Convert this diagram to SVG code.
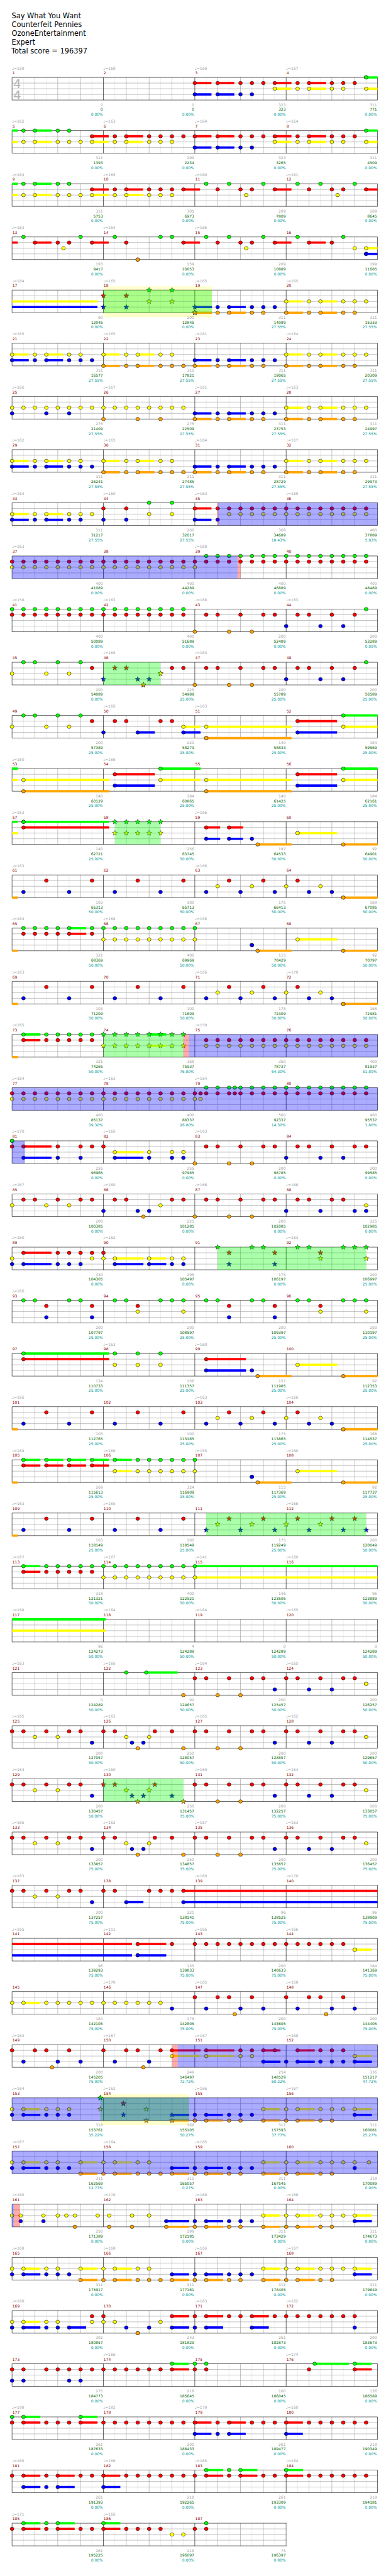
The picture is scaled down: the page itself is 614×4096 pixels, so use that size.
<svg xmlns="http://www.w3.org/2000/svg" xmlns:xlink="http://www.w3.org/1999/xlink" width="614" height="4096" viewBox="0 0 614 4096">
<style>
text{font-family:"DejaVu Sans",sans-serif;font-size:10px}
.t,.a{fill:#a0a0a0}
.m{fill:#8b0000}
.a,.b,.c{text-anchor:end}
.b{fill:#006400}
.c{fill:#009999}
.h{font-size:19px;fill:#000}
.ts{font-size:33px;fill:#b4b4b4}
.sG,.sR,.sY,.sB,.sO{fill:none;stroke-width:6}
.sG{stroke:#0f0}.sR{stroke:#f00}.sY{stroke:#ff0}.sB{stroke:#00f}.sO{stroke:#ffa500}
.nG,.nR,.nY,.nB,.nO,.xG,.xR,.xY,.xB,.xO{fill:none;stroke:none}
.nG{marker-start:url(#G);marker-mid:url(#G);marker-end:url(#G)}
.nR{marker-start:url(#R);marker-mid:url(#R);marker-end:url(#R)}
.nY{marker-start:url(#Y);marker-mid:url(#Y);marker-end:url(#Y)}
.nB{marker-start:url(#B);marker-mid:url(#B);marker-end:url(#B)}
.nO{marker-start:url(#O);marker-mid:url(#O);marker-end:url(#O)}
.xG{marker-start:url(#SG);marker-mid:url(#SG);marker-end:url(#SG)}
.xR{marker-start:url(#SR);marker-mid:url(#SR);marker-end:url(#SR)}
.xY{marker-start:url(#SY);marker-mid:url(#SY);marker-end:url(#SY)}
.xB{marker-start:url(#SB);marker-mid:url(#SB);marker-end:url(#SB)}
.xO{marker-start:url(#SO);marker-mid:url(#SO);marker-end:url(#SO)}
.ob{fill:#00f;fill-opacity:.33}.og{fill:#0f0;fill-opacity:.33}.op{fill:#f00;fill-opacity:.33}.oy{fill:#ffc}
</style>
<defs>
<ellipse id="e" rx="5" ry="4.6" stroke="#000" stroke-width=".9"/>
<path id="p" d="M0-7L1.8-2.4 6.7-2.2 2.9.9 4.1 5.7 0 3-4.1 5.7-2.9.9-6.7-2.2-1.8-2.4Z" stroke="#000" stroke-width=".8"/>
<marker id="G" markerUnits="userSpaceOnUse" overflow="visible"><use href="#e" fill="#0f0" transform="scale(.033003,1)"/></marker>
<marker id="R" markerUnits="userSpaceOnUse" overflow="visible"><use href="#e" fill="#f00" transform="scale(.033003,1)"/></marker>
<marker id="Y" markerUnits="userSpaceOnUse" overflow="visible"><use href="#e" fill="#ff0" transform="scale(.033003,1)"/></marker>
<marker id="B" markerUnits="userSpaceOnUse" overflow="visible"><use href="#e" fill="#00f" transform="scale(.033003,1)"/></marker>
<marker id="O" markerUnits="userSpaceOnUse" overflow="visible"><use href="#e" fill="#ffa500" transform="scale(.033003,1)"/></marker>
<marker id="SG" markerUnits="userSpaceOnUse" overflow="visible"><use href="#p" fill="#0f0" transform="scale(.033003,1)"/></marker>
<marker id="SR" markerUnits="userSpaceOnUse" overflow="visible"><use href="#p" fill="#f00" transform="scale(.033003,1)"/></marker>
<marker id="SY" markerUnits="userSpaceOnUse" overflow="visible"><use href="#p" fill="#ff0" transform="scale(.033003,1)"/></marker>
<marker id="SB" markerUnits="userSpaceOnUse" overflow="visible"><use href="#p" fill="#00f" transform="scale(.033003,1)"/></marker>
<marker id="SO" markerUnits="userSpaceOnUse" overflow="visible"><use href="#p" fill="#ffa500" transform="scale(.033003,1)"/></marker>
<g id="st">
<path d="M30.3 0V60M90.9 0V60M151.5 0V60M212.1 0V60M272.7 0V60M333.3 0V60M393.9 0V60M454.5 0V60M515.1 0V60M575.7 0V60M636.3 0V60M696.9 0V60M757.5 0V60M818.1 0V60M878.7 0V60M939.3 0V60" stroke="#e0e0e0"/>
<path d="M60.6 0V60M121.2 0V60M181.8 0V60M303 0V60M363.6 0V60M424.2 0V60M545.4 0V60M606 0V60M666.6 0V60M787.8 0V60M848.4 0V60M909 0V60M0 15H969.6M0 30H969.6M0 45H969.6" stroke="#999"/>
<path d="M0 0V60M242.4 0V60M484.8 0V60M727.2 0V60M969.6 0V60M0 0H969.6M0 60H969.6" stroke="#000"/>
</g>
<clipPath id="c3"><rect x="-2" y="-2" width="730" height="64"/></clipPath>
</defs>
<rect width="614" height="4096" fill="#fff"/>
<g transform="scale(.5996)">
<g id="title">
<text class="h" x="31" y="49">Say What You Want</text>
<text class="h" x="31" y="72.3">Counterfeit Pennies</text>
<text class="h" x="31" y="95.6">OzoneEntertainment</text>
<text class="h" x="31" y="119">Expert</text>
<text class="h" x="30" y="142">Total score = 196397</text>
</g>

<g id="row1" transform="translate(32,205.3)">
<use href="#st"/>
<text class="ts" x="3" y="27.4">4</text><text class="ts" x="3" y="57.4">4</text>
<g transform="scale(30.3,1)">
<path class="sR" d="M16 15H17.46M18 15H19.46M23 15H24.46M26 15H27.5"/>
<path class="sY" d="M23 30H24.46M26 30H27.5M31 30H32"/>
<path class="sB" d="M16 45H17.46M18 45H19.46"/>
<path class="sG" d="M31 0H32"/>
<path class="nR" d="M16 15H18 20 21 22 23 25 26 28 29 30"/>
<path class="nY" d="M23 30H25 26 28 29 31"/>
<path class="nB" d="M16 45H18 20 21"/>
<path class="nG" d="M31 0h0"/>
</g>
<text class="t" y="-21"><tspan x="0">♩=158</tspan><tspan x="242">♩=168</tspan><tspan x="485">♩=169</tspan><tspan x="727">♩=167</tspan></text>
<text class="m" y="-8"><tspan x="1">1</tspan><tspan x="243">2</tspan><tspan x="486">3</tspan><tspan x="728">4</tspan></text>
<text class="a" y="76"><tspan x="241">0</tspan><tspan x="483">0</tspan><tspan x="726">323</tspan><tspan x="968">311</tspan></text>
<text class="b" y="89"><tspan x="241">0</tspan><tspan x="483">0</tspan><tspan x="726">323</tspan><tspan x="968">771</tspan></text>
<text class="c" y="102"><tspan x="241">0.00%</tspan><tspan x="483">0.00%</tspan><tspan x="726">0.00%</tspan><tspan x="968">0.00%</tspan></text>
</g>

<g id="row2" transform="translate(32,346.3)">
<use href="#st"/>
<g transform="scale(30.3,1)">
<path class="sG" d="M0 0H.5M2 0H3.46M31 0H32"/>
<path class="sR" d="M7 15H8.46M10 15H11.46M16 15H17.46M18 15H19.46M23 15H24.46M26 15H27.5"/>
<path class="sY" d="M0 30H.5M2 30H3.46M7 30H8.46M10 30H11.46M23 30H24.46M26 30H27.5M31 30H32"/>
<path class="sB" d="M16 45H17.46M18 45H19.46"/>
<path class="nG" d="M1 0H2 4 5 31"/>
<path class="nR" d="M7 15H9 10 12 13 14 15 16 18 20 21 22 23 25 26 28 29 30"/>
<path class="nY" d="M1 30H2 4 5 6 7 9 10 12 13 14 23 25 26 28 29 31"/>
<path class="nB" d="M16 45H18 20 21"/>
</g>
<text class="t" y="-21"><tspan x="0">♩=162</tspan><tspan x="242">♩=163</tspan><tspan x="485">♩=164</tspan><tspan x="727">♩=164</tspan></text>
<text class="m" y="-8"><tspan x="1">5</tspan><tspan x="243">6</tspan><tspan x="486">7</tspan><tspan x="728">8</tspan></text>
<text class="a" y="76"><tspan x="241">311</tspan><tspan x="483">299</tspan><tspan x="726">323</tspan><tspan x="968">311</tspan></text>
<text class="b" y="89"><tspan x="241">1393</tspan><tspan x="483">2234</tspan><tspan x="726">3265</tspan><tspan x="968">4509</tspan></text>
<text class="c" y="102"><tspan x="241">0.00%</tspan><tspan x="483">0.00%</tspan><tspan x="726">0.00%</tspan><tspan x="968">0.00%</tspan></text>
</g>

<g id="row3" transform="translate(32,487.3)">
<use href="#st"/>
<g transform="scale(30.3,1)">
<path class="sG" d="M0 0H.5M2 0H3.46"/>
<path class="sR" d="M7 15H8.46M10 15H11.46M15 15H16.46M23 15H24.46M31 15H32"/>
<path class="sY" d="M0 30H.5M2 30H3.46M7 30H8.46M10 30H11.46"/>
<path class="nG" d="M1 0H2 4 5 17 19 22 25 27 30"/>
<path class="nR" d="M7 15H9 10 12 13 14 15 18 20 21 23 26 28 29 31"/>
<path class="nY" d="M1 30H2 4 5 6 7 9 10 12 13 14 20.5 28.5"/>
</g>
<text class="t" y="-21"><tspan x="0">♩=164</tspan><tspan x="242">♩=165</tspan><tspan x="485">♩=160</tspan><tspan x="727">♩=161</tspan></text>
<text class="m" y="-8"><tspan x="1">9</tspan><tspan x="243">10</tspan><tspan x="486">11</tspan><tspan x="728">12</tspan></text>
<text class="a" y="76"><tspan x="241">311</tspan><tspan x="483">305</tspan><tspan x="726">209</tspan><tspan x="968">209</tspan></text>
<text class="b" y="89"><tspan x="241">5753</tspan><tspan x="483">6973</tspan><tspan x="726">7809</tspan><tspan x="968">8645</tspan></text>
<text class="c" y="102"><tspan x="241">0.00%</tspan><tspan x="483">0.00%</tspan><tspan x="726">0.00%</tspan><tspan x="968">0.00%</tspan></text>
</g>

<g id="row4" transform="translate(32,628.3)">
<use href="#st"/>
<g transform="scale(30.3,1)">
<path class="sR" d="M0 15H.5M2 15H3.46M7 15H8.46M15 15H16.46M23 15H24.46M26 15H27.46"/>
<path class="sY" d="M31 30H32"/>
<path class="sB" d="M31 45H32"/>
<path class="nG" d="M1 0H6 9 13 14 17 19 22 25 29"/>
<path class="nR" d="M2 15H4 5 7 10 15 18 20 21 23 26 28"/>
<path class="nY" d="M4.5 30H20.5 30 31"/>
<path class="nB" d="M31 45h0"/>
<path class="nO" d="M11 60h0"/>
</g>
<text class="t" y="-21"><tspan x="0">♩=163</tspan><tspan x="242">♩=164</tspan><tspan x="485">♩=166</tspan></text>
<text class="m" y="-8"><tspan x="1">13</tspan><tspan x="243">14</tspan><tspan x="486">15</tspan><tspan x="728">16</tspan></text>
<text class="a" y="76"><tspan x="241">193</tspan><tspan x="483">159</tspan><tspan x="726">209</tspan><tspan x="968">199</tspan></text>
<text class="b" y="89"><tspan x="241">9417</tspan><tspan x="483">10053</tspan><tspan x="726">10889</tspan><tspan x="968">11685</tspan></text>
<text class="c" y="102"><tspan x="241">0.00%</tspan><tspan x="483">0.00%</tspan><tspan x="726">0.00%</tspan><tspan x="968">0.00%</tspan></text>
</g>

<g id="row5" transform="translate(32,769.3)">
<rect class="oy" x="242.4" y="-10" width="287.9" height="82"/>
<use href="#st"/>
<g transform="scale(30.3,1)">
<path class="sY" d="M0 30H7.47M24 30H25.46M27 30H28.46"/>
<path class="sB" d="M0 45H7.47M16 45H17.5M19 45H20.46"/>
<path class="sO" d="M16 60H17.5M19 60H20.46M24 60H25.46M27 60H28.46"/>
<path class="xR" d="M8 15H10"/>
<path class="xB" d="M8 45H10 16"/>
<path class="xG" d="M12 0H14"/>
<path class="xY" d="M12 30H14"/>
<path class="xO" d="M16 60h0"/>
<path class="nB" d="M18 45H19 21 22 23"/>
<path class="nO" d="M18 60H19 21 22 24 26 27 29 30"/>
<path class="nY" d="M24 30H26 27 29 30 31"/>
<rect class="og" x="8" width="9.5" height="60"/>
</g>
<text class="t" y="-21"><tspan x="0">♩=184</tspan><tspan x="242">♩=165</tspan><tspan x="485">♩=165</tspan><tspan x="727">♩=165</tspan></text>
<text class="m" y="-8"><tspan x="1">17</tspan><tspan x="243">18</tspan><tspan x="486">19</tspan><tspan x="728">20</tspan></text>
<text class="a" y="76"><tspan x="241">90</tspan><tspan x="483">200</tspan><tspan x="726">311</tspan><tspan x="968">311</tspan></text>
<text class="b" y="89"><tspan x="241">12045</tspan><tspan x="483">12845</tspan><tspan x="726">14089</tspan><tspan x="968">15333</tspan></text>
<text class="c" y="102"><tspan x="241">0.00%</tspan><tspan x="483">0.00%</tspan><tspan x="726">27.55%</tspan><tspan x="968">27.55%</tspan></text>
</g>

<g id="row6" transform="translate(32,910.3)">
<use href="#st"/>
<g transform="scale(30.3,1)">
<path class="sY" d="M0 30H1.46M3 30H4.46M8 30H9.46M11 30H12.46M24 30H25.46M27 30H28.46"/>
<path class="sB" d="M0 45H1.46M3 45H4.46M16 45H17.46M19 45H20.46"/>
<path class="sO" d="M8 60H9.46M11 60H12.46M16 60H17.46M19 60H20.46M24 60H25.46M27 60H28.46"/>
<path class="nY" d="M0 30H2 3 5 6 8 10 11 13 14 24 26 27 29 30 31"/>
<path class="nB" d="M0 45H2 3 5 6 7 16 18 19 21 22 23"/>
<path class="nO" d="M8 60H10 11 13 14 15 16 18 19 21 22 24 26 27 29 30"/>
</g>
<text class="t" y="-21"><tspan x="0">♩=165</tspan><tspan x="242">♩=165</tspan><tspan x="485">♩=161</tspan><tspan x="727">♩=164</tspan></text>
<text class="m" y="-8"><tspan x="1">21</tspan><tspan x="243">22</tspan><tspan x="486">23</tspan><tspan x="728">24</tspan></text>
<text class="a" y="76"><tspan x="241">311</tspan><tspan x="483">311</tspan><tspan x="726">311</tspan><tspan x="968">311</tspan></text>
<text class="b" y="89"><tspan x="241">16577</tspan><tspan x="483">17821</tspan><tspan x="726">19065</tspan><tspan x="968">20309</tspan></text>
<text class="c" y="102"><tspan x="241">27.55%</tspan><tspan x="483">27.55%</tspan><tspan x="726">27.55%</tspan><tspan x="968">27.55%</tspan></text>
</g>

<g id="row7" transform="translate(32,1051.3)">
<use href="#st"/>
<g transform="scale(30.3,1)">
<path class="sY" d="M24 30H25.46M27 30H28.46"/>
<path class="sB" d="M16 45H17.46M19 45H20.46"/>
<path class="sO" d="M16 60H17.46M19 60H20.46M24 60H25.46M27 60H28.46"/>
<path class="nY" d="M0 30H1 2 3 4 5 6 7 8 9 10 11 12 13 14 15 24 26 27 29 30 31"/>
<path class="nB" d="M0 45H3 5 16 18 19 21 22 23"/>
<path class="nO" d="M8 60H11 13 16 18 19 21 22 24 26 27 29 30"/>
</g>
<text class="t" y="-21"><tspan x="0">♩=166</tspan><tspan x="242">♩=167</tspan><tspan x="485">♩=161</tspan><tspan x="727">♩=163</tspan></text>
<text class="m" y="-8"><tspan x="1">25</tspan><tspan x="243">26</tspan><tspan x="486">27</tspan><tspan x="728">28</tspan></text>
<text class="a" y="76"><tspan x="241">275</tspan><tspan x="483">275</tspan><tspan x="726">311</tspan><tspan x="968">311</tspan></text>
<text class="b" y="89"><tspan x="241">21409</tspan><tspan x="483">22509</tspan><tspan x="726">23753</tspan><tspan x="968">24997</tspan></text>
<text class="c" y="102"><tspan x="241">27.55%</tspan><tspan x="483">27.55%</tspan><tspan x="726">27.55%</tspan><tspan x="968">27.55%</tspan></text>
</g>

<g id="row8" transform="translate(32,1192.3)">
<use href="#st"/>
<g transform="scale(30.3,1)">
<path class="sY" d="M0 30H1.46M3 30H4.46M8 30H9.46M11 30H12.46M24 30H25.46M27 30H28.46"/>
<path class="sB" d="M0 45H1.46M3 45H4.46M16 45H17.46M19 45H20.46"/>
<path class="sO" d="M8 60H9.46M11 60H12.46M16 60H17.46M19 60H20.46M24 60H25.46M27 60H28.46"/>
<path class="nY" d="M0 30H2 3 5 6 8 10 11 13 14 24 26 27 29 30 31"/>
<path class="nB" d="M0 45H2 3 5 6 7 16 18 19 21 22 23"/>
<path class="nO" d="M8 60H10 11 13 14 15 16 18 19 21 22 24 26 27 29 30"/>
</g>
<text class="t" y="-21"><tspan x="0">♩=162</tspan><tspan x="242">♩=165</tspan><tspan x="485">♩=164</tspan><tspan x="727">♩=167</tspan></text>
<text class="m" y="-8"><tspan x="1">29</tspan><tspan x="243">30</tspan><tspan x="486">31</tspan><tspan x="728">32</tspan></text>
<text class="a" y="76"><tspan x="241">311</tspan><tspan x="483">311</tspan><tspan x="726">311</tspan><tspan x="968">311</tspan></text>
<text class="b" y="89"><tspan x="241">26241</tspan><tspan x="483">27485</tspan><tspan x="726">28729</tspan><tspan x="968">29973</tspan></text>
<text class="c" y="102"><tspan x="241">27.55%</tspan><tspan x="483">27.55%</tspan><tspan x="726">27.55%</tspan><tspan x="968">27.55%</tspan></text>
</g>

<g id="row9" transform="translate(32,1333.3)">
<use href="#st"/>
<g transform="scale(30.3,1)">
<path class="sY" d="M0 30H1.46M3 30H4.46"/>
<path class="sB" d="M0 45H1.46M3 45H4.46M16 45H17.46"/>
<path class="sR" d="M16 15H17.46"/>
<path class="nY" d="M0 30H2 3 5 6 7 12 14 19 20 21 22 23 24 25 26 27 28 29 30 31"/>
<path class="nB" d="M0 45H2 3 5 6 8 10 16 18"/>
<path class="nR" d="M8 15H10 16 18 19 20 21 22 23 24 25 26 27 28 29 30 31"/>
<path class="nG" d="M12 0H14"/>
<rect class="op" x="17.96" width=".12" height="60"/>
<rect class="ob" x="18.05" width="13.95" height="60"/>
</g>
<text class="t" y="-21"><tspan x="0">♩=164</tspan><tspan x="242">♩=160</tspan><tspan x="485">♩=163</tspan><tspan x="727">♩=168</tspan></text>
<text class="m" y="-8"><tspan x="1">33</tspan><tspan x="243">34</tspan><tspan x="486">35</tspan><tspan x="728">36</tspan></text>
<text class="a" y="76"><tspan x="241">311</tspan><tspan x="483">200</tspan><tspan x="726">368</tspan><tspan x="968">400</tspan></text>
<text class="b" y="89"><tspan x="241">31217</tspan><tspan x="483">32017</tspan><tspan x="726">34689</tspan><tspan x="968">37889</tspan></text>
<text class="c" y="102"><tspan x="241">27.55%</tspan><tspan x="483">27.55%</tspan><tspan x="726">18.43%</tspan><tspan x="968">5.93%</tspan></text>
</g>

<g id="row10" transform="translate(32,1474.3)">
<use href="#st"/>
<g transform="scale(30.3,1)">
<path class="nR" d="M0 15H1 2 3 4 5 6 7 8 9 10 11 12 13 14 15 16 17 18 19 20 21 22 23 24 25 26 27 28 29 30 31"/>
<path class="nY" d="M0 30H1 2 3 4 5 6 7 8 9 10 11 12 13 14 15 16"/>
<path class="nG" d="M17 0H18 19 20 21 22 23 24 25 26 27 28 29 30 31"/>
<rect class="ob" x="0" width="19.74" height="60"/>
<rect class="op" x="19.74" width=".26" height="60"/>
</g>
<text class="t" y="-21"><tspan x="0">♩=163</tspan><tspan x="485">♩=168</tspan></text>
<text class="m" y="-8"><tspan x="1">37</tspan><tspan x="243">38</tspan><tspan x="486">39</tspan><tspan x="728">40</tspan></text>
<text class="a" y="76"><tspan x="241">400</tspan><tspan x="483">400</tspan><tspan x="726">400</tspan><tspan x="968">400</tspan></text>
<text class="b" y="89"><tspan x="241">41089</tspan><tspan x="483">44289</tspan><tspan x="726">46889</tspan><tspan x="968">48489</tspan></text>
<text class="c" y="102"><tspan x="241">0.00%</tspan><tspan x="483">0.00%</tspan><tspan x="726">0.00%</tspan><tspan x="968">0.00%</tspan></text>
</g>

<g id="row11" transform="translate(32,1615.3)">
<use href="#st"/>
<g transform="scale(30.3,1)">
<path class="nG" d="M0 0H1 2 3 4 5 6 7 8 9 10 11 12 13 14 15 31"/>
<path class="nR" d="M0 15H1 2 3 4 5 6 7 8 9 10 11 12 13 14 15 17 18 20 22 23 25 26 28 30"/>
<path class="nB" d="M24 45H27 29"/>
<path class="nO" d="M16 60H19 21"/>
</g>
<text class="t" y="-21"><tspan x="0">♩=158</tspan><tspan x="242">♩=163</tspan><tspan x="485">♩=168</tspan><tspan x="727">♩=163</tspan></text>
<text class="m" y="-8"><tspan x="1">41</tspan><tspan x="243">42</tspan><tspan x="486">43</tspan><tspan x="728">44</tspan></text>
<text class="a" y="76"><tspan x="241">400</tspan><tspan x="483">400</tspan><tspan x="726">200</tspan><tspan x="968">200</tspan></text>
<text class="b" y="89"><tspan x="241">50089</tspan><tspan x="483">51689</tspan><tspan x="726">52489</tspan><tspan x="968">53289</tspan></text>
<text class="c" y="102"><tspan x="241">0.00%</tspan><tspan x="483">0.00%</tspan><tspan x="726">0.00%</tspan><tspan x="968">0.00%</tspan></text>
</g>

<g id="row12" transform="translate(32,1756.3)">
<use href="#st"/>
<g transform="scale(30.3,1)">
<path class="nG" d="M1 0H2 4 6 31"/>
<path class="nR" d="M7 15H14 15 17 18 20 22 23 25 26 28 30"/>
<path class="xR" d="M9 15H10"/>
<path class="nY" d="M0 30H3 5"/>
<path class="xY" d="M13 30h0"/>
<path class="xB" d="M8 45H11 12"/>
<path class="nB" d="M24 45H27 29"/>
<path class="xO" d="M11.5 60h0"/>
<path class="nO" d="M16 60H19 21"/>
<rect class="og" x="8" width="5" height="60"/>
</g>
<text class="t" y="-21"><tspan x="242">♩=168</tspan><tspan x="485">♩=163</tspan></text>
<text class="m" y="-8"><tspan x="1">45</tspan><tspan x="243">46</tspan><tspan x="486">47</tspan><tspan x="728">48</tspan></text>
<text class="a" y="76"><tspan x="241">200</tspan><tspan x="483">225</tspan><tspan x="726">200</tspan><tspan x="968">200</tspan></text>
<text class="b" y="89"><tspan x="241">54089</tspan><tspan x="483">54989</tspan><tspan x="726">55789</tspan><tspan x="968">56589</tspan></text>
<text class="c" y="102"><tspan x="241">0.00%</tspan><tspan x="483">25.00%</tspan><tspan x="726">25.00%</tspan><tspan x="968">25.00%</tspan></text>
</g>

<g id="row13" transform="translate(32,1897.3)">
<use href="#st"/>
<g transform="scale(30.3,1)">
<path class="sG" d="M29 0H32"/>
<path class="sR" d="M25 15H28.46"/>
<path class="sY" d="M15 30H16.5M17 30H24.47M29 30H32"/>
<path class="sB" d="M11 45H12.5M15 45H16.5M25 45H28.46"/>
<path class="sO" d="M17 60H24.47"/>
<path class="nG" d="M1 0H2 4 6 29"/>
<path class="nR" d="M7 15H9 10 13 14 25"/>
<path class="nY" d="M0 30H3 5 15 17 29"/>
<path class="nB" d="M8 45H11 15 25"/>
<path class="nO" d="M17 60h0"/>
</g>
<text class="t" y="-21"><tspan x="242">♩=166</tspan><tspan x="485">♩=163</tspan></text>
<text class="m" y="-8"><tspan x="1">49</tspan><tspan x="243">50</tspan><tspan x="486">51</tspan><tspan x="728">52</tspan></text>
<text class="a" y="76"><tspan x="241">200</tspan><tspan x="483">221</tspan><tspan x="726">140</tspan><tspan x="968">184</tspan></text>
<text class="b" y="89"><tspan x="241">57389</tspan><tspan x="483">58273</tspan><tspan x="726">58833</tspan><tspan x="968">59569</tspan></text>
<text class="c" y="102"><tspan x="241">25.00%</tspan><tspan x="483">25.00%</tspan><tspan x="726">25.00%</tspan><tspan x="968">25.00%</tspan></text>
</g>

<g id="row14" transform="translate(32,2038.3)">
<use href="#st"/>
<g transform="scale(30.3,1)">
<path class="sG" d="M0 0H.5M13 0H16.5M29 0H32"/>
<path class="sR" d="M9 15H12.5M25 15H28.46"/>
<path class="sY" d="M0 30H.5M1 30H8.5M13 30H16.5M17 30H24.47M29 30H32"/>
<path class="sB" d="M9 45H12.5M25 45H28.46"/>
<path class="sO" d="M1 60H8.5M17 60H24.47"/>
<path class="nG" d="M13 0H29"/>
<path class="nR" d="M9 15H25"/>
<path class="nY" d="M1 30H13 17 29"/>
<path class="nB" d="M9 45H25"/>
<path class="nO" d="M1 60H17"/>
</g>
<text class="t" y="-21"><tspan x="0">♩=160</tspan><tspan x="242">♩=166</tspan></text>
<text class="m" y="-8"><tspan x="1">53</tspan><tspan x="243">54</tspan><tspan x="486">55</tspan><tspan x="728">56</tspan></text>
<text class="a" y="76"><tspan x="241">140</tspan><tspan x="483">184</tspan><tspan x="726">140</tspan><tspan x="968">184</tspan></text>
<text class="b" y="89"><tspan x="241">60129</tspan><tspan x="483">60865</tspan><tspan x="726">61425</tspan><tspan x="968">62161</tspan></text>
<text class="c" y="102"><tspan x="241">25.00%</tspan><tspan x="483">25.00%</tspan><tspan x="726">25.00%</tspan><tspan x="968">25.00%</tspan></text>
</g>

<g id="row15" transform="translate(32,2179.3)">
<use href="#st"/>
<g transform="scale(30.3,1)">
<path class="sG" d="M0 0H.5M1 0H8.5"/>
<path class="sR" d="M1 15H8.5M17 15H18.22M19 15H20.22"/>
<path class="sY" d="M0 30H.5M25 30H28.46"/>
<path class="sB" d="M17 45H18.22M19 45H20.22"/>
<path class="sO" d="M21.5 60H24.47M29 60H32"/>
<path class="nG" d="M1 0h0"/>
<path class="xG" d="M9 0H10 11 12 13"/>
<path class="nR" d="M1 15H17 19"/>
<path class="xY" d="M9 30H10 11 12 13"/>
<path class="nY" d="M25 30h0"/>
<path class="nB" d="M17 45H19 21"/>
<path class="nO" d="M21.5 60H29"/>
<rect class="og" x="9" width="4" height="60"/>
</g>
<text class="t" y="-21"><tspan x="0">♩=163</tspan><tspan x="485">♩=166</tspan></text>
<text class="m" y="-8"><tspan x="1">57</tspan><tspan x="243">58</tspan><tspan x="486">59</tspan><tspan x="728">60</tspan></text>
<text class="a" y="76"><tspan x="241">140</tspan><tspan x="483">256</tspan><tspan x="726">197</tspan><tspan x="968">92</tspan></text>
<text class="b" y="89"><tspan x="241">62721</tspan><tspan x="483">63745</tspan><tspan x="726">64533</tspan><tspan x="968">64901</tspan></text>
<text class="c" y="102"><tspan x="241">25.00%</tspan><tspan x="483">50.00%</tspan><tspan x="726">50.00%</tspan><tspan x="968">50.00%</tspan></text>
</g>

<g id="row16" transform="translate(32,2320.3)">
<use href="#st"/>
<g transform="scale(30.3,1)">
<path class="sO" d="M0 60H.5M29 60H32"/>
<path class="nO" d="M29 60h0"/>
<path class="nR" d="M3 15H7 11 15 19 22 25"/>
<path class="nY" d="M18 30H21 24 27"/>
<path class="nB" d="M1 45H5 9 13 17 20 23 26 28"/>
</g>
<text class="t" y="-21"><tspan x="0">♩=163</tspan><tspan x="485">♩=166</tspan></text>
<text class="m" y="-8"><tspan x="1">61</tspan><tspan x="243">62</tspan><tspan x="486">63</tspan><tspan x="728">64</tspan></text>
<text class="a" y="76"><tspan x="241">103</tspan><tspan x="483">100</tspan><tspan x="726">175</tspan><tspan x="968">168</tspan></text>
<text class="b" y="89"><tspan x="241">65313</tspan><tspan x="483">65713</tspan><tspan x="726">66413</tspan><tspan x="968">67085</tspan></text>
<text class="c" y="102"><tspan x="241">50.00%</tspan><tspan x="483">50.00%</tspan><tspan x="726">50.00%</tspan><tspan x="968">50.00%</tspan></text>
</g>

<g id="row17" transform="translate(32,2461.3)">
<use href="#st"/>
<g transform="scale(30.3,1)">
<path class="sO" d="M0 60H.5M21.5 60H24.47M29 60H32"/>
<path class="sG" d="M5 0H6.5"/>
<path class="sR" d="M5 15H6.5"/>
<path class="sY" d="M25 30H28.46"/>
<path class="nO" d="M21.5 60H29"/>
<path class="nG" d="M1 0H2 3 4 5 7 8 9 10 11 12 13 14 15 16"/>
<path class="nR" d="M1 15H2 3 4 5 7"/>
<path class="nY" d="M8 30H9 10 11 12 13 14 15 16 25"/>
<path class="nB" d="M21 45h0"/>
</g>
<text class="t" y="-21"><tspan x="0">♩=164</tspan><tspan x="242">♩=168</tspan><tspan x="485">♩=158</tspan></text>
<text class="m" y="-8"><tspan x="1">65</tspan><tspan x="243">66</tspan><tspan x="486">67</tspan><tspan x="728">68</tspan></text>
<text class="a" y="76"><tspan x="241">321</tspan><tspan x="483">400</tspan><tspan x="726">115</tspan><tspan x="968">92</tspan></text>
<text class="b" y="89"><tspan x="241">68369</tspan><tspan x="483">69969</tspan><tspan x="726">70429</tspan><tspan x="968">70797</tspan></text>
<text class="c" y="102"><tspan x="241">50.00%</tspan><tspan x="483">50.00%</tspan><tspan x="726">50.00%</tspan><tspan x="968">50.00%</tspan></text>
</g>

<g id="row18" transform="translate(32,2602.3)">
<use href="#st"/>
<g transform="scale(30.3,1)">
<path class="sO" d="M0 60H.5M29 60H32"/>
<path class="nO" d="M29 60h0"/>
<path class="nR" d="M3 15H7 11 15 19 22 25"/>
<path class="nY" d="M18 30H21 24 27"/>
<path class="nB" d="M1 45H5 9 13 17 20 23 26 28"/>
</g>
<text class="t" y="-21"><tspan x="0">♩=163</tspan><tspan x="485">♩=166</tspan><tspan x="727">♩=170</tspan></text>
<text class="m" y="-8"><tspan x="1">69</tspan><tspan x="243">70</tspan><tspan x="486">71</tspan><tspan x="728">72</tspan></text>
<text class="a" y="76"><tspan x="241">103</tspan><tspan x="483">100</tspan><tspan x="726">175</tspan><tspan x="968">168</tspan></text>
<text class="b" y="89"><tspan x="241">71209</tspan><tspan x="483">71609</tspan><tspan x="726">72309</tspan><tspan x="968">72981</tspan></text>
<text class="c" y="102"><tspan x="241">50.00%</tspan><tspan x="483">50.00%</tspan><tspan x="726">50.00%</tspan><tspan x="968">50.00%</tspan></text>
</g>

<g id="row19" transform="translate(32,2743.3)">
<use href="#st"/>
<g transform="scale(30.3,1)">
<path class="sO" d="M0 60H.5"/>
<path class="sG" d="M1 0H2.48M12 0H13.5"/>
<path class="sR" d="M1 15H2.48"/>
<path class="sY" d="M12 30H13.5"/>
<path class="nG" d="M1 0H3 4 5 6 7"/>
<path class="xG" d="M8 0H9 10 11 12 13 14 15"/>
<path class="nR" d="M1 15H3 4 5 6 7 17 18 19 20 21 22 23 24 25 26 27 28 29 30 31"/>
<path class="xY" d="M8 30H9 10 11 12 13 14 15"/>
<path class="nY" d="M17 30H18 19 20 21 22 23 24 25 26 27 28 29 30 31"/>
<rect class="og" x="8" width="7" height="60"/>
<rect class="op" x="15" width=".5" height="60"/>
<rect class="ob" x="15.5" width="16.5" height="60"/>
</g>
<text class="t" y="-21"><tspan x="0">♩=165</tspan><tspan x="485">♩=159</tspan></text>
<text class="m" y="-8"><tspan x="1">73</tspan><tspan x="243">74</tspan><tspan x="486">75</tspan><tspan x="728">76</tspan></text>
<text class="a" y="76"><tspan x="241">321</tspan><tspan x="483">368</tspan><tspan x="726">350</tspan><tspan x="968">400</tspan></text>
<text class="b" y="89"><tspan x="241">74265</tspan><tspan x="483">75937</tspan><tspan x="726">78737</tspan><tspan x="968">81937</tspan></text>
<text class="c" y="102"><tspan x="241">50.00%</tspan><tspan x="483">76.80%</tspan><tspan x="726">64.30%</tspan><tspan x="968">51.80%</tspan></text>
</g>

<g id="row20" transform="translate(32,2884.3)">
<use href="#st"/>
<g transform="scale(30.3,1)">
<path class="nR" d="M0 15H1 2 3 4 5 6 7 8 9 10 11 12 13 14 15 16 16.5 17 18 19 19.5 20 21 22 23 24 25 26 27 28 29 30 31"/>
<path class="nY" d="M0 30H1 2 3 4 5 6 7 8 9 10 11 12 13 14 15 16 16.5"/>
<path class="nG" d="M17 0H18 19 19.5 20 21 22 23 24 25 26 27 28 29 30 31"/>
<rect class="ob" x="0" width="32" height="60"/>
</g>
<text class="t" y="-21"><tspan x="0">♩=164</tspan><tspan x="242">♩=163</tspan><tspan x="485">♩=164</tspan></text>
<text class="m" y="-8"><tspan x="1">77</tspan><tspan x="243">78</tspan><tspan x="486">79</tspan><tspan x="728">80</tspan></text>
<text class="a" y="76"><tspan x="241">400</tspan><tspan x="483">400</tspan><tspan x="726">500</tspan><tspan x="968">400</tspan></text>
<text class="b" y="89"><tspan x="241">85137</tspan><tspan x="483">88337</tspan><tspan x="726">92337</tspan><tspan x="968">95537</tspan></text>
<text class="c" y="102"><tspan x="241">39.30%</tspan><tspan x="483">26.80%</tspan><tspan x="726">14.30%</tspan><tspan x="968">1.80%</tspan></text>
</g>

<g id="row21" transform="translate(32,3025.3)">
<use href="#st"/>
<g transform="scale(30.3,1)">
<path class="sR" d="M1 15H3.46"/>
<path class="sY" d="M9 30H11.5"/>
<path class="sB" d="M1 45H3.46M9 45H11.5"/>
<path class="nG" d="M0 0h0"/>
<path class="nR" d="M0 15H1 4 6 7 8 17 18 20 22 23 25 26 28 30 31"/>
<path class="nY" d="M9 30H12 14 15"/>
<path class="nB" d="M1 45H4 6 9 12 14 15 24 27 29"/>
<path class="nO" d="M16 60H19 21"/>
<rect class="ob" x="0" width="1.13" height="60"/>
</g>
<text class="t" y="-21"><tspan x="0">♩=170</tspan><tspan x="242">♩=166</tspan><tspan x="485">♩=163</tspan></text>
<text class="m" y="-8"><tspan x="1">81</tspan><tspan x="243">82</tspan><tspan x="486">83</tspan><tspan x="728">84</tspan></text>
<text class="a" y="76"><tspan x="241">255</tspan><tspan x="483">255</tspan><tspan x="726">200</tspan><tspan x="968">200</tspan></text>
<text class="b" y="89"><tspan x="241">96965</tspan><tspan x="483">97985</tspan><tspan x="726">98785</tspan><tspan x="968">99585</tspan></text>
<text class="c" y="102"><tspan x="241">0.00%</tspan><tspan x="483">0.00%</tspan><tspan x="726">0.00%</tspan><tspan x="968">0.00%</tspan></text>
</g>

<g id="row22" transform="translate(32,3166.3)">
<use href="#st"/>
<g transform="scale(30.3,1)">
<path class="nR" d="M1 15H2 4 6 7 9 10 14 15 17 18 20 22 23 25 26 28 29"/>
<path class="nY" d="M0 30H3 5 13 31"/>
<path class="nB" d="M8 45H11 12 24 27 30 31"/>
<path class="nO" d="M11.5 60H16 19 21"/>
</g>
<text class="t" y="-21"><tspan x="0">♩=167</tspan><tspan x="242">♩=160</tspan><tspan x="485">♩=166</tspan><tspan x="727">♩=166</tspan></text>
<text class="m" y="-8"><tspan x="1">85</tspan><tspan x="243">86</tspan><tspan x="486">87</tspan><tspan x="728">88</tspan></text>
<text class="a" y="76"><tspan x="241">200</tspan><tspan x="483">225</tspan><tspan x="726">200</tspan><tspan x="968">225</tspan></text>
<text class="b" y="89"><tspan x="241">100385</tspan><tspan x="483">101285</tspan><tspan x="726">102085</tspan><tspan x="968">102985</tspan></text>
<text class="c" y="102"><tspan x="241">0.00%</tspan><tspan x="483">0.00%</tspan><tspan x="726">0.00%</tspan><tspan x="968">0.00%</tspan></text>
</g>

<g id="row23" transform="translate(32,3307.3)">
<use href="#st"/>
<g transform="scale(30.3,1)">
<path class="sR" d="M1 15H3.46"/>
<path class="sY" d="M9 30H11.5M12 30H13.5"/>
<path class="sB" d="M1 45H3.46M9 45H11.5M12 45H13.5"/>
<path class="nR" d="M1 15H4 5 6 7 8"/>
<path class="xR" d="M19 15H23 27"/>
<path class="nY" d="M0 30H7 8 9 12 14 15"/>
<path class="xY" d="M27 30H31"/>
<path class="nB" d="M0 45H1 4 5 6 9 12 14 15"/>
<path class="xB" d="M19 45H23"/>
<path class="xG" d="M18 0H21 22 25 26 29 30 31"/>
<rect class="og" x="18" width="13" height="60"/>
</g>
<text class="t" y="-21"><tspan x="0">♩=160</tspan><tspan x="242">♩=162</tspan><tspan x="727">♩=163</tspan></text>
<text class="m" y="-8"><tspan x="1">89</tspan><tspan x="243">90</tspan><tspan x="486">91</tspan><tspan x="728">92</tspan></text>
<text class="a" y="76"><tspan x="241">330</tspan><tspan x="483">298</tspan><tspan x="726">175</tspan><tspan x="968">200</tspan></text>
<text class="b" y="89"><tspan x="241">104305</tspan><tspan x="483">105497</tspan><tspan x="726">106197</tspan><tspan x="968">106997</tspan></text>
<text class="c" y="102"><tspan x="241">0.00%</tspan><tspan x="483">0.00%</tspan><tspan x="726">0.00%</tspan><tspan x="968">25.00%</tspan></text>
</g>

<g id="row24" transform="translate(32,3448.3)">
<use href="#st"/>
<g transform="scale(30.3,1)">
<path class="nG" d="M1 0H2 5 6 9 10 13 14 15 17 18 21 22 25 26 29 30 31"/>
<path class="nR" d="M3 15H7 11 19 23 27"/>
<path class="nY" d="M11 30H15 27 31"/>
<path class="nB" d="M3 45H7 19 23"/>
</g>
<text class="t" y="-21"><tspan x="0">♩=166</tspan></text>
<text class="m" y="-8"><tspan x="1">93</tspan><tspan x="243">94</tspan><tspan x="486">95</tspan><tspan x="728">96</tspan></text>
<text class="a" y="76"><tspan x="241">200</tspan><tspan x="483">200</tspan><tspan x="726">200</tspan><tspan x="968">200</tspan></text>
<text class="b" y="89"><tspan x="241">107797</tspan><tspan x="483">108597</tspan><tspan x="726">109397</tspan><tspan x="968">110197</tspan></text>
<text class="c" y="102"><tspan x="241">25.00%</tspan><tspan x="483">25.00%</tspan><tspan x="726">25.00%</tspan><tspan x="968">25.00%</tspan></text>
</g>

<g id="row25" transform="translate(32,3589.3)">
<use href="#st"/>
<g transform="scale(30.3,1)">
<path class="sG" d="M1 0H8.5"/>
<path class="sR" d="M1 15H8.5M17 15H20.48"/>
<path class="sY" d="M25 30H28.46"/>
<path class="sB" d="M17 45H20.48"/>
<path class="sO" d="M21.5 60H24.47M29 60H32"/>
<path class="nG" d="M1 0H9 11 13"/>
<path class="nR" d="M1 15H17"/>
<path class="nY" d="M9 30H11 13 25"/>
<path class="nB" d="M17 45H21"/>
<path class="nO" d="M21.5 60H29"/>
</g>
<text class="t" y="-21"><tspan x="242">♩=163</tspan><tspan x="485">♩=160</tspan></text>
<text class="m" y="-8"><tspan x="1">97</tspan><tspan x="243">98</tspan><tspan x="486">99</tspan><tspan x="728">100</tspan></text>
<text class="a" y="76"><tspan x="241">134</tspan><tspan x="483">156</tspan><tspan x="726">157</tspan><tspan x="968">92</tspan></text>
<text class="b" y="89"><tspan x="241">110733</tspan><tspan x="483">111357</tspan><tspan x="726">111985</tspan><tspan x="968">112353</tspan></text>
<text class="c" y="102"><tspan x="241">25.00%</tspan><tspan x="483">25.00%</tspan><tspan x="726">25.00%</tspan><tspan x="968">25.00%</tspan></text>
</g>

<g id="row26" transform="translate(32,3730.3)">
<use href="#st"/>
<g transform="scale(30.3,1)">
<path class="sO" d="M0 60H.5M29 60H32"/>
<path class="nO" d="M29 60h0"/>
<path class="nR" d="M3 15H7 11 15 19 22 25"/>
<path class="nY" d="M18 30H21 24 27"/>
<path class="nB" d="M1 45H5 9 13 17 20 23 26 28"/>
</g>
<text class="t" y="-21"><tspan x="0">♩=166</tspan><tspan x="485">♩=163</tspan><tspan x="727">♩=166</tspan></text>
<text class="m" y="-8"><tspan x="1">101</tspan><tspan x="243">102</tspan><tspan x="486">103</tspan><tspan x="728">104</tspan></text>
<text class="a" y="76"><tspan x="241">103</tspan><tspan x="483">100</tspan><tspan x="726">175</tspan><tspan x="968">168</tspan></text>
<text class="b" y="89"><tspan x="241">112765</tspan><tspan x="483">113165</tspan><tspan x="726">113865</tspan><tspan x="968">114537</tspan></text>
<text class="c" y="102"><tspan x="241">25.00%</tspan><tspan x="483">25.00%</tspan><tspan x="726">25.00%</tspan><tspan x="968">25.00%</tspan></text>
</g>

<g id="row27" transform="translate(32,3871.3)">
<use href="#st"/>
<g transform="scale(30.3,1)">
<path class="sO" d="M0 60H.5M21.5 60H24.47M29 60H32"/>
<path class="sG" d="M1 0H2.48M3 0H4.48M5 0H6.48M7 0H8.48M9 0H10.48"/>
<path class="sR" d="M1 15H2.48M3 15H4.48M5 15H6.48M7 15H8.48"/>
<path class="sY" d="M9 30H10.48M25 30H28.46"/>
<path class="nO" d="M21.5 60H29"/>
<path class="nG" d="M1 0H3 5 7 9 11 12 13 14 15 16"/>
<path class="nR" d="M1 15H3 5 7"/>
<path class="nY" d="M9 30H11 12 13 14 15 16 25"/>
<path class="nB" d="M21 45h0"/>
</g>
<text class="t" y="-21"><tspan x="0">♩=168</tspan><tspan x="242">♩=166</tspan><tspan x="485">♩=155</tspan><tspan x="727">♩=160</tspan></text>
<text class="m" y="-8"><tspan x="1">105</tspan><tspan x="243">106</tspan><tspan x="486">107</tspan><tspan x="728">108</tspan></text>
<text class="a" y="76"><tspan x="241">269</tspan><tspan x="483">324</tspan><tspan x="726">115</tspan><tspan x="968">92</tspan></text>
<text class="b" y="89"><tspan x="241">115613</tspan><tspan x="483">116909</tspan><tspan x="726">117369</tspan><tspan x="968">117737</tspan></text>
<text class="c" y="102"><tspan x="241">25.00%</tspan><tspan x="483">25.00%</tspan><tspan x="726">25.00%</tspan><tspan x="968">25.00%</tspan></text>
</g>

<g id="row28" transform="translate(32,4012.3)">
<use href="#st"/>
<g transform="scale(30.3,1)">
<path class="sO" d="M0 60H.5"/>
<path class="nR" d="M3 15H7 11 15"/>
<path class="nB" d="M1 45H5 9 13"/>
<path class="xB" d="M17 45H20 23 26 29 31"/>
<path class="xY" d="M18 30H21 24 27"/>
<path class="xR" d="M19 15H22 25 28 30"/>
<rect class="og" x="17" width="14" height="60"/>
</g>
<text class="t" y="-21"><tspan x="0">♩=163</tspan><tspan x="242">♩=165</tspan><tspan x="727">♩=166</tspan></text>
<text class="m" y="-8"><tspan x="1">109</tspan><tspan x="243">110</tspan><tspan x="486">111</tspan><tspan x="728">112</tspan></text>
<text class="a" y="76"><tspan x="241">103</tspan><tspan x="483">100</tspan><tspan x="726">175</tspan><tspan x="968">200</tspan></text>
<text class="b" y="89"><tspan x="241">118149</tspan><tspan x="483">118549</tspan><tspan x="726">119249</tspan><tspan x="968">120049</tspan></text>
<text class="c" y="102"><tspan x="241">25.00%</tspan><tspan x="483">25.00%</tspan><tspan x="726">25.00%</tspan><tspan x="968">50.00%</tspan></text>
</g>

<g id="row29" transform="translate(32,4153.3)">
<use href="#st"/>
<g transform="scale(30.3,1)">
<path class="sG" d="M1 0H2.48M16 0H32"/>
<path class="sR" d="M1 15H2.48"/>
<path class="sY" d="M16 30H32"/>
<path class="nG" d="M1 0H3 4 5 6 7 8 9 10 11 12 13 14 15 16"/>
<path class="nR" d="M1 15H3 4 5 6 7"/>
<path class="nY" d="M8 30H9 10 11 12 13 14 15 16"/>
</g>
<text class="t" y="-21"><tspan x="0">♩=167</tspan><tspan x="242">♩=167</tspan><tspan x="485">♩=141</tspan><tspan x="727">♩=160</tspan></text>
<text class="m" y="-8"><tspan x="1">113</tspan><tspan x="243">114</tspan><tspan x="486">115</tspan><tspan x="728">116</tspan></text>
<text class="a" y="76"><tspan x="241">318</tspan><tspan x="483">400</tspan><tspan x="726">146</tspan><tspan x="968">96</tspan></text>
<text class="b" y="89"><tspan x="241">121321</tspan><tspan x="483">122921</tspan><tspan x="726">123505</tspan><tspan x="968">123889</tspan></text>
<text class="c" y="102"><tspan x="241">50.00%</tspan><tspan x="483">50.00%</tspan><tspan x="726">50.00%</tspan><tspan x="968">50.00%</tspan></text>
</g>

<g id="row30" transform="translate(32,4294.3)">
<use href="#st"/>
<g transform="scale(30.3,1)">
<path class="sG" d="M0 0H8.2"/>
<path class="sY" d="M0 30H8.2"/>
</g>
<text class="t" y="-21"><tspan x="0">♩=168</tspan><tspan x="242">♩=164</tspan><tspan x="485">♩=164</tspan><tspan x="727">♩=165</tspan></text>
<text class="m" y="-8"><tspan x="1">117</tspan><tspan x="243">118</tspan><tspan x="486">119</tspan><tspan x="728">120</tspan></text>
<text class="a" y="76"><tspan x="241">96</tspan><tspan x="483">4</tspan><tspan x="726">0</tspan><tspan x="968">0</tspan></text>
<text class="b" y="89"><tspan x="241">124273</tspan><tspan x="483">124289</tspan><tspan x="726">124289</tspan><tspan x="968">124289</tspan></text>
<text class="c" y="102"><tspan x="241">50.00%</tspan><tspan x="483">50.00%</tspan><tspan x="726">50.00%</tspan><tspan x="968">50.00%</tspan></text>
</g>

<g id="row31" transform="translate(32,4435.3)">
<use href="#st"/>
<g transform="scale(30.3,1)">
<path class="sG" d="M11.75 0H14.5"/>
<path class="nG" d="M10 0H11.75"/>
<path class="nR" d="M16 15H17 19 21 22 24 25 27 29 30"/>
<path class="nY" d="M31 30h0"/>
<path class="nB" d="M23 45H26 28"/>
<path class="nO" d="M15 60H18 20"/>
</g>
<text class="t" y="-21"><tspan x="0">♩=163</tspan><tspan x="242">♩=166</tspan><tspan x="485">♩=164</tspan><tspan x="727">♩=165</tspan></text>
<text class="m" y="-8"><tspan x="1">121</tspan><tspan x="243">122</tspan><tspan x="486">123</tspan><tspan x="728">124</tspan></text>
<text class="a" y="76"><tspan x="241">0</tspan><tspan x="483">92</tspan><tspan x="726">200</tspan><tspan x="968">200</tspan></text>
<text class="b" y="89"><tspan x="241">124289</tspan><tspan x="483">124657</tspan><tspan x="726">125457</tspan><tspan x="968">126257</tspan></text>
<text class="c" y="102"><tspan x="241">50.00%</tspan><tspan x="483">50.00%</tspan><tspan x="726">50.00%</tspan><tspan x="968">50.00%</tspan></text>
</g>

<g id="row32" transform="translate(32,4576.3)">
<use href="#st"/>
<g transform="scale(30.3,1)">
<path class="nR" d="M0 15H1 3 5 6 8 9 12.5 14 16 17 19 21 22 24 25 27 29 30"/>
<path class="nY" d="M2 30H4 10 12 31"/>
<path class="nB" d="M7 45H10.5 11.5 23 26 28"/>
<path class="nO" d="M11 60H15 18 20"/>
</g>
<text class="t" y="-21"><tspan x="0">♩=165</tspan><tspan x="242">♩=162</tspan><tspan x="485">♩=165</tspan><tspan x="727">♩=162</tspan></text>
<text class="m" y="-8"><tspan x="1">125</tspan><tspan x="243">126</tspan><tspan x="486">127</tspan><tspan x="728">128</tspan></text>
<text class="a" y="76"><tspan x="241">200</tspan><tspan x="483">250</tspan><tspan x="726">200</tspan><tspan x="968">200</tspan></text>
<text class="b" y="89"><tspan x="241">127057</tspan><tspan x="483">128057</tspan><tspan x="726">128857</tspan><tspan x="968">129657</tspan></text>
<text class="c" y="102"><tspan x="241">50.00%</tspan><tspan x="483">50.00%</tspan><tspan x="726">50.00%</tspan><tspan x="968">50.00%</tspan></text>
</g>

<g id="row33" transform="translate(32,4717.3)">
<use href="#st"/>
<g transform="scale(30.3,1)">
<path class="nR" d="M0 15H1 3 5 6 16 17 19 21 22 24 25 27 29 30"/>
<path class="xR" d="M8 15H9 12.5"/>
<path class="nY" d="M2 30H4 31"/>
<path class="xY" d="M10 30H12"/>
<path class="nB" d="M7 45H23 26 28"/>
<path class="xB" d="M10.5 45H11.5 14"/>
<path class="xO" d="M11 60H15"/>
<path class="nO" d="M18 60H20"/>
<rect class="og" x="8" width="7" height="60"/>
</g>
<text class="t" y="-21"><tspan x="0">♩=164</tspan><tspan x="242">♩=160</tspan><tspan x="485">♩=169</tspan><tspan x="727">♩=164</tspan></text>
<text class="m" y="-8"><tspan x="1">129</tspan><tspan x="243">130</tspan><tspan x="486">131</tspan><tspan x="728">132</tspan></text>
<text class="a" y="76"><tspan x="241">200</tspan><tspan x="483">250</tspan><tspan x="726">200</tspan><tspan x="968">200</tspan></text>
<text class="b" y="89"><tspan x="241">130457</tspan><tspan x="483">131457</tspan><tspan x="726">132257</tspan><tspan x="968">133057</tspan></text>
<text class="c" y="102"><tspan x="241">50.00%</tspan><tspan x="483">75.00%</tspan><tspan x="726">75.00%</tspan><tspan x="968">75.00%</tspan></text>
</g>

<g id="row34" transform="translate(32,4858.3)">
<use href="#st"/>
<g transform="scale(30.3,1)">
<path class="nR" d="M0 15H1 3 5 6 8 9 12.5 14 16 17 19 21 22 24 25 27 29 30"/>
<path class="nY" d="M2 30H4 10 12 31"/>
<path class="nB" d="M7 45H10.5 11.5 23 26 28"/>
<path class="nO" d="M11 60H15 18 20"/>
</g>
<text class="t" y="-21"><tspan x="0">♩=166</tspan><tspan x="242">♩=162</tspan><tspan x="485">♩=167</tspan><tspan x="727">♩=163</tspan></text>
<text class="m" y="-8"><tspan x="1">133</tspan><tspan x="243">134</tspan><tspan x="486">135</tspan><tspan x="728">136</tspan></text>
<text class="a" y="76"><tspan x="241">200</tspan><tspan x="483">250</tspan><tspan x="726">200</tspan><tspan x="968">200</tspan></text>
<text class="b" y="89"><tspan x="241">133857</tspan><tspan x="483">134857</tspan><tspan x="726">135657</tspan><tspan x="968">136457</tspan></text>
<text class="c" y="102"><tspan x="241">75.00%</tspan><tspan x="483">75.00%</tspan><tspan x="726">75.00%</tspan><tspan x="968">75.00%</tspan></text>
</g>

<g id="row35" transform="translate(32,4999.3)">
<use href="#st"/>
<g transform="scale(30.3,1)">
<path class="sR" d="M15 15H32"/>
<path class="sB" d="M10 45H11.5M15 45H32"/>
<path class="nR" d="M0 15H1 3 5 6 8 9 12 13 14 15"/>
<path class="nY" d="M2 30H4"/>
<path class="nB" d="M7 45H10 15"/>
</g>
<text class="t" y="-21"><tspan x="0">♩=163</tspan><tspan x="485">♩=160</tspan><tspan x="727">♩=170</tspan></text>
<text class="m" y="-8"><tspan x="1">137</tspan><tspan x="243">138</tspan><tspan x="486">139</tspan><tspan x="728">140</tspan></text>
<text class="a" y="76"><tspan x="241">200</tspan><tspan x="483">221</tspan><tspan x="726">96</tspan><tspan x="968">96</tspan></text>
<text class="b" y="89"><tspan x="241">137257</tspan><tspan x="483">138141</tspan><tspan x="726">138525</tspan><tspan x="968">138909</tspan></text>
<text class="c" y="102"><tspan x="241">75.00%</tspan><tspan x="483">75.00%</tspan><tspan x="726">75.00%</tspan><tspan x="968">75.00%</tspan></text>
</g>

<g id="row36" transform="translate(32,5140.3)">
<use href="#st"/>
<g transform="scale(30.3,1)">
<path class="sR" d="M0 15H10.5M11 15H13.5"/>
<path class="sB" d="M0 45H10.5M11 45H13.5"/>
<path class="sY" d="M30 30H31.5"/>
<path class="nR" d="M11 15H14 16 17 18 19 20 21 22 23 24 25 26 27 28 29"/>
<path class="nB" d="M11 45h0"/>
<path class="nY" d="M30 30h0"/>
</g>
<text class="t" y="-21"><tspan x="0">♩=165</tspan><tspan x="242">♩=151</tspan><tspan x="485">♩=166</tspan><tspan x="727">♩=166</tspan></text>
<text class="m" y="-8"><tspan x="1">141</tspan><tspan x="243">142</tspan><tspan x="486">143</tspan><tspan x="728">144</tspan></text>
<text class="a" y="76"><tspan x="241">96</tspan><tspan x="483">135</tspan><tspan x="726">200</tspan><tspan x="968">184</tspan></text>
<text class="b" y="89"><tspan x="241">139293</tspan><tspan x="483">139833</tspan><tspan x="726">140633</tspan><tspan x="968">141369</tspan></text>
<text class="c" y="102"><tspan x="241">75.00%</tspan><tspan x="483">75.00%</tspan><tspan x="726">75.00%</tspan><tspan x="968">75.00%</tspan></text>
</g>

<g id="row37" transform="translate(32,5281.3)">
<use href="#st"/>
<g transform="scale(30.3,1)">
<path class="sY" d="M1 30H2.48"/>
<path class="nY" d="M0 30H1 3 4 5 6 7 8 9 10 11 12 13"/>
<path class="nB" d="M14 45H17 20 22 25 28 30"/>
<path class="nR" d="M16 15H18 19 21 24 26 27 29"/>
<path class="nO" d="M19.5 60H27.5"/>
</g>
<text class="t" y="-21"><tspan x="242">♩=170</tspan><tspan x="485">♩=165</tspan><tspan x="727">♩=168</tspan></text>
<text class="m" y="-8"><tspan x="1">145</tspan><tspan x="243">146</tspan><tspan x="486">147</tspan><tspan x="728">148</tspan></text>
<text class="a" y="76"><tspan x="241">184</tspan><tspan x="483">175</tspan><tspan x="726">200</tspan><tspan x="968">200</tspan></text>
<text class="b" y="89"><tspan x="241">142105</tspan><tspan x="483">142805</tspan><tspan x="726">143605</tspan><tspan x="968">144405</tspan></text>
<text class="c" y="102"><tspan x="241">75.00%</tspan><tspan x="483">75.00%</tspan><tspan x="726">75.00%</tspan><tspan x="968">75.00%</tspan></text>
</g>

<g id="row38" transform="translate(32,5422.3)">
<use href="#st"/>
<g transform="scale(30.3,1)">
<path class="sR" d="M14 15H16.5M17 15H19.46M22 15H23.5M25 15H26.5"/>
<path class="sY" d="M14 30H16.5M17 30H19.46M30 30H31.5"/>
<path class="sB" d="M22 45H23.5M25 45H26.5M30 45H31.5"/>
<path class="nR" d="M0 15H2 3 5 8 10 11 13 14 17 20 21 22 23 25 27 28 29"/>
<path class="nY" d="M14 30H17 20 21 30"/>
<path class="nB" d="M1 45H4 6 9 12 22 24 25 27 28 29 30"/>
<path class="nO" d="M3.5 60H11.5"/>
<rect class="op" x="14" width=".5" height="60"/>
<rect class="ob" x="14.5" width="17.5" height="60"/>
</g>
<text class="t" y="-21"><tspan x="0">♩=163</tspan><tspan x="242">♩=167</tspan><tspan x="485">♩=167</tspan><tspan x="727">♩=168</tspan></text>
<text class="m" y="-8"><tspan x="1">149</tspan><tspan x="243">150</tspan><tspan x="486">151</tspan><tspan x="728">152</tspan></text>
<text class="a" y="76"><tspan x="241">200</tspan><tspan x="483">249</tspan><tspan x="726">254</tspan><tspan x="968">336</tspan></text>
<text class="b" y="89"><tspan x="241">145205</tspan><tspan x="483">146497</tspan><tspan x="726">148529</tspan><tspan x="968">151217</tspan></text>
<text class="c" y="102"><tspan x="241">75.00%</tspan><tspan x="483">72.72%</tspan><tspan x="726">60.22%</tspan><tspan x="968">47.72%</tspan></text>
</g>

<g id="row39" transform="translate(32,5563.3)">
<rect class="oy" x="234.2" y="-10" width="235.4" height="82"/>
<use href="#st"/>
<g transform="scale(30.3,1)">
<path class="sY" d="M1 30H2.48M22 30H23.5M25 30H26.5M30 30H31.5"/>
<path class="sB" d="M1 45H2.48M14 45H15.5M17 45H18.46M30 45H31.5"/>
<path class="sO" d="M14 60H15.5M17 60H18.46M22 60H23.5M25 60H26.5"/>
<path class="nY" d="M0 30H1 3 4 5 22 24 25 27 28 29 30"/>
<path class="xY" d="M7.73 30H11.75"/>
<path class="xG" d="M7.73 0h0"/>
<path class="xR" d="M9.75 15h0"/>
<path class="xB" d="M9.75 45H14"/>
<path class="xO" d="M11.75 60H14"/>
<path class="nB" d="M0 45H1 3 4 5 16 17 19 20 21 30"/>
<path class="nO" d="M16 60H17 19 20 22 24 25 27 28"/>
<rect class="og" x="7.73" width="7.77" height="60"/>
<rect class="ob" x="0" width="32" height="60"/>
</g>
<text class="t" y="-21"><tspan x="0">♩=164</tspan><tspan x="242">♩=162</tspan><tspan x="485">♩=166</tspan><tspan x="727">♩=167</tspan></text>
<text class="m" y="-8"><tspan x="1">153</tspan><tspan x="243">154</tspan><tspan x="486">155</tspan><tspan x="728">156</tspan></text>
<text class="a" y="76"><tspan x="241">318</tspan><tspan x="483">168</tspan><tspan x="726">311</tspan><tspan x="968">311</tspan></text>
<text class="b" y="89"><tspan x="241">153761</tspan><tspan x="483">155105</tspan><tspan x="726">157593</tspan><tspan x="968">160081</tspan></text>
<text class="c" y="102"><tspan x="241">35.22%</tspan><tspan x="483">50.27%</tspan><tspan x="726">37.77%</tspan><tspan x="968">25.27%</tspan></text>
</g>

<g id="row40" transform="translate(32,5704.3)">
<use href="#st"/>
<g transform="scale(30.3,1)">
<path class="sY" d="M1 30H2.48M6 30H7.48M9 30H10.48M22 30H23.5M25 30H26.5"/>
<path class="sB" d="M1 45H2.48M14 45H15.5M17 45H18.48"/>
<path class="sO" d="M6 60H7.48M9 60H10.48M14 60H15.5M17 60H18.48M22 60H23.5M25 60H26.5"/>
<path class="nY" d="M0 30H1 3 4 6 8 9 11 12 22 24 25 27 28 29 30 31.25"/>
<path class="nB" d="M0 45H1 3 4 5 14 16 17 19 20 21 30"/>
<path class="nO" d="M6 60H8 9 11 12 13 14 16 17 19 20 22 24 25 27 28"/>
<rect class="ob" x="0" width="32" height="60"/>
</g>
<text class="t" y="-21"><tspan x="0">♩=167</tspan><tspan x="242">♩=164</tspan><tspan x="485">♩=165</tspan></text>
<text class="m" y="-8"><tspan x="1">157</tspan><tspan x="243">158</tspan><tspan x="486">159</tspan><tspan x="728">160</tspan></text>
<text class="a" y="76"><tspan x="241">311</tspan><tspan x="483">311</tspan><tspan x="726">311</tspan><tspan x="968">318</tspan></text>
<text class="b" y="89"><tspan x="241">162569</tspan><tspan x="483">165057</tspan><tspan x="726">167545</tspan><tspan x="968">170089</tspan></text>
<text class="c" y="102"><tspan x="241">12.77%</tspan><tspan x="483">0.27%</tspan><tspan x="726">0.00%</tspan><tspan x="968">0.00%</tspan></text>
</g>

<g id="row41" transform="translate(32,5845.3)">
<use href="#st"/>
<g transform="scale(30.3,1)">
<path class="sY" d="M22 30H23.5M25 30H26.5M30 30H31.5"/>
<path class="sB" d="M13.5 45H15.5M17 45H18.48M30 45H31.5"/>
<path class="sO" d="M13.5 60H15.5M17 60H18.48M22 60H23.5M25 60H26.5"/>
<path class="nY" d="M0 30H.75 2.75 4 4.75 5.5 7.5 8.5 10.5 12 22 24 25 27 28 29 30"/>
<path class="nB" d="M.75 45H2.75 13.5 16 17 19 20 21 30"/>
<path class="nO" d="M5.5 60H8.5 10.5 13.5 16 17 19 20 22 24 25 27 28"/>
<rect class="ob" x="0" width=".15" height="60"/>
<rect class="op" x=".15" width=".55" height="60"/>
</g>
<text class="t" y="-21"><tspan x="0">♩=168</tspan><tspan x="242">♩=178</tspan><tspan x="485">♩=168</tspan><tspan x="727">♩=166</tspan></text>
<text class="m" y="-8"><tspan x="1">161</tspan><tspan x="243">162</tspan><tspan x="486">163</tspan><tspan x="728">164</tspan></text>
<text class="a" y="76"><tspan x="241">250</tspan><tspan x="483">199</tspan><tspan x="726">311</tspan><tspan x="968">311</tspan></text>
<text class="b" y="89"><tspan x="241">171389</tspan><tspan x="483">172185</tspan><tspan x="726">173429</tspan><tspan x="968">174673</tspan></text>
<text class="c" y="102"><tspan x="241">0.00%</tspan><tspan x="483">0.00%</tspan><tspan x="726">0.00%</tspan><tspan x="968">0.00%</tspan></text>
</g>

<g id="row42" transform="translate(32,5986.3)">
<use href="#st"/>
<g transform="scale(30.3,1)">
<path class="sY" d="M1 30H2.48M6 30H7.48M9 30H10.48M22 30H23.5M25 30H26.5M30 30H31.5"/>
<path class="sB" d="M1 45H2.48M14 45H15.5M17 45H18.48M30 45H31.5"/>
<path class="sO" d="M6 60H7.48M9 60H10.48M14 60H15.5M17 60H18.48M22 60H23.5M25 60H26.5"/>
<path class="nY" d="M0 30H1 3 4 6 8 9 11 12 22 24 25 27 28 29 30"/>
<path class="nB" d="M0 45H1 3 4 5 14 16 17 19 20 21 30"/>
<path class="nO" d="M6 60H8 9 11 12 13 14 16 17 19 20 22 24 25 27 28"/>
</g>
<text class="t" y="-21"><tspan x="0">♩=168</tspan><tspan x="242">♩=168</tspan><tspan x="485">♩=166</tspan><tspan x="727">♩=167</tspan></text>
<text class="m" y="-8"><tspan x="1">165</tspan><tspan x="243">166</tspan><tspan x="486">167</tspan><tspan x="728">168</tspan></text>
<text class="a" y="76"><tspan x="241">311</tspan><tspan x="483">311</tspan><tspan x="726">311</tspan><tspan x="968">311</tspan></text>
<text class="b" y="89"><tspan x="241">175917</tspan><tspan x="483">177161</tspan><tspan x="726">178405</tspan><tspan x="968">179649</tspan></text>
<text class="c" y="102"><tspan x="241">0.00%</tspan><tspan x="483">0.00%</tspan><tspan x="726">0.00%</tspan><tspan x="968">0.00%</tspan></text>
</g>

<g id="row43" transform="translate(32,6127.3)">
<use href="#st"/>
<g transform="scale(30.3,1)">
<path class="sY" d="M1 30H2.48"/>
<path class="sB" d="M1 45H2.48M5 45H6.48M14 45H15.5M17 45H18.48M21 45H22.48"/>
<path class="sR" d="M14 15H15.5M17 15H18.48M21 15H22.48"/>
<path class="nY" d="M0 30H1 3 4 7 8 9 13"/>
<path class="nB" d="M0 45H1 3 4 5 10 12 14 16 17 21 30"/>
<path class="nR" d="M7 15H8 14 16 17 19 20 21 23 24 25 26 27 28 29 30"/>
<path class="nO" d="M11 60h0"/>
</g>
<text class="t" y="-21"><tspan x="0">♩=168</tspan><tspan x="485">♩=163</tspan><tspan x="727">♩=162</tspan></text>
<text class="m" y="-8"><tspan x="1">169</tspan><tspan x="243">170</tspan><tspan x="486">171</tspan><tspan x="728">172</tspan></text>
<text class="a" y="76"><tspan x="241">302</tspan><tspan x="483">243</tspan><tspan x="726">261</tspan><tspan x="968">200</tspan></text>
<text class="b" y="89"><tspan x="241">180857</tspan><tspan x="483">181829</tspan><tspan x="726">182873</tspan><tspan x="968">183673</tspan></text>
<text class="c" y="102"><tspan x="241">0.00%</tspan><tspan x="483">0.00%</tspan><tspan x="726">0.00%</tspan><tspan x="968">0.00%</tspan></text>
</g>

<g id="row44" transform="translate(32,6268.3)">
<use href="#st"/>
<g transform="scale(30.3,1)">
<path class="sR" d="M14 15H15.5M30 15H31.5"/>
<path class="sG" d="M14 0H15.5M26.5 0H29.5M30 0H31.5"/>
<path class="nR" d="M0 15H1 3 4 5 6 7 8 9 10 11 12 13 14 16 17 26 30"/>
<path class="nB" d="M0 45H1 5 6"/>
<path class="nG" d="M14 0H16 17 26.5 30"/>
</g>
<text class="t" y="-21"><tspan x="242">♩=166</tspan><tspan x="727">♩=174</tspan></text>
<text class="m" y="-8"><tspan x="1">173</tspan><tspan x="243">174</tspan><tspan x="486">175</tspan><tspan x="728">176</tspan></text>
<text class="a" y="76"><tspan x="241">275</tspan><tspan x="483">218</tspan><tspan x="726">100</tspan><tspan x="968">136</tspan></text>
<text class="b" y="89"><tspan x="241">184773</tspan><tspan x="483">185645</tspan><tspan x="726">186045</tspan><tspan x="968">186589</tspan></text>
<text class="c" y="102"><tspan x="241">0.00%</tspan><tspan x="483">0.00%</tspan><tspan x="726">0.00%</tspan><tspan x="968">0.00%</tspan></text>
</g>

<g id="row45" transform="translate(32,6409.3)">
<use href="#st"/>
<g transform="scale(30.3,1)">
<path class="sG" d="M1 0H2.48M6 0H7.48"/>
<path class="sR" d="M1 15H2.48M6 15H7.48M16 15H17.46M19 15H20.46M24 15H25.46"/>
<path class="sB" d="M16 45H17.46M19 45H20.46M24 45H25.46"/>
<path class="nG" d="M0 0H1 6"/>
<path class="nR" d="M0 15H1 3 4 5 6 8 9 10 11 12 13 14 15 16 18 19 21 22 23 24 26 27 28 29 30 31"/>
<path class="nB" d="M16 45H18 19 24"/>
</g>
<text class="t" y="-21"><tspan x="0">♩=188</tspan><tspan x="242">♩=182</tspan><tspan x="485">♩=179</tspan><tspan x="727">♩=160</tspan></text>
<text class="m" y="-8"><tspan x="1">177</tspan><tspan x="243">178</tspan><tspan x="486">179</tspan><tspan x="728">180</tspan></text>
<text class="a" y="76"><tspan x="241">261</tspan><tspan x="483">200</tspan><tspan x="726">261</tspan><tspan x="968">218</tspan></text>
<text class="b" y="89"><tspan x="241">187633</tspan><tspan x="483">188433</tspan><tspan x="726">189477</tspan><tspan x="968">190349</tspan></text>
<text class="c" y="102"><tspan x="241">0.00%</tspan><tspan x="483">0.00%</tspan><tspan x="726">0.00%</tspan><tspan x="968">0.00%</tspan></text>
</g>

<g id="row46" transform="translate(32,6550.3)">
<use href="#st"/>
<g transform="scale(30.3,1)">
<path class="sR" d="M1 15H2.48M4 15H5.48M8 15H9.48M17 15H18.48M20 15H21.48M24 15H25.48"/>
<path class="sB" d="M1 45H2.48M4 45H5.48M8 45H9.48"/>
<path class="sG" d="M17 0H18.48M20 0H21.48M24 0H25.48"/>
<path class="nR" d="M0 15H1 3 4 6 7 8 10 11 12 13 14 15 16 17 19 20 22 23 24 26 27 28 29 30 31"/>
<path class="nB" d="M1 45H3 4 8"/>
<path class="nG" d="M17 0H19 20 24"/>
</g>
<text class="t" y="-21"><tspan x="0">♩=165</tspan><tspan x="242">♩=166</tspan><tspan x="485">♩=165</tspan><tspan x="727">♩=164</tspan></text>
<text class="m" y="-8"><tspan x="1">181</tspan><tspan x="243">182</tspan><tspan x="486">183</tspan><tspan x="728">184</tspan></text>
<text class="a" y="76"><tspan x="241">261</tspan><tspan x="483">218</tspan><tspan x="726">261</tspan><tspan x="968">218</tspan></text>
<text class="b" y="89"><tspan x="241">191393</tspan><tspan x="483">192265</tspan><tspan x="726">193309</tspan><tspan x="968">194181</tspan></text>
<text class="c" y="102"><tspan x="241">0.00%</tspan><tspan x="483">0.00%</tspan><tspan x="726">0.00%</tspan><tspan x="968">0.00%</tspan></text>
</g>

<g id="row47" transform="translate(32,6691.3)">
<use href="#st" clip-path="url(#c3)"/>
<g transform="scale(30.3,1)">
<path class="sG" d="M1 0H2.48M4 0H5.48M8 0H9.48"/>
<path class="sR" d="M1 15H2.48M4 15H5.48M8 15H9.48"/>
<path class="nG" d="M1 0H3 4 8 17"/>
<path class="nR" d="M0 15H1 3 4 6 7 8 10 11 12 13 16 17"/>
<path class="nY" d="M14 30H15"/>
</g>
<text class="t" y="-21"><tspan x="0">♩=171</tspan><tspan x="242">♩=166</tspan></text>
<text class="m" y="-8"><tspan x="1">185</tspan><tspan x="243">186</tspan><tspan x="486">187</tspan></text>
<text class="a" y="76"><tspan x="241">261</tspan><tspan x="483">218</tspan><tspan x="726">75</tspan></text>
<text class="b" y="89"><tspan x="241">195225</tspan><tspan x="483">196097</tspan><tspan x="726">196397</tspan></text>
<text class="c" y="102"><tspan x="241">0.00%</tspan><tspan x="483">0.00%</tspan><tspan x="726">0.00%</tspan></text>
</g>
</g>
</svg>
